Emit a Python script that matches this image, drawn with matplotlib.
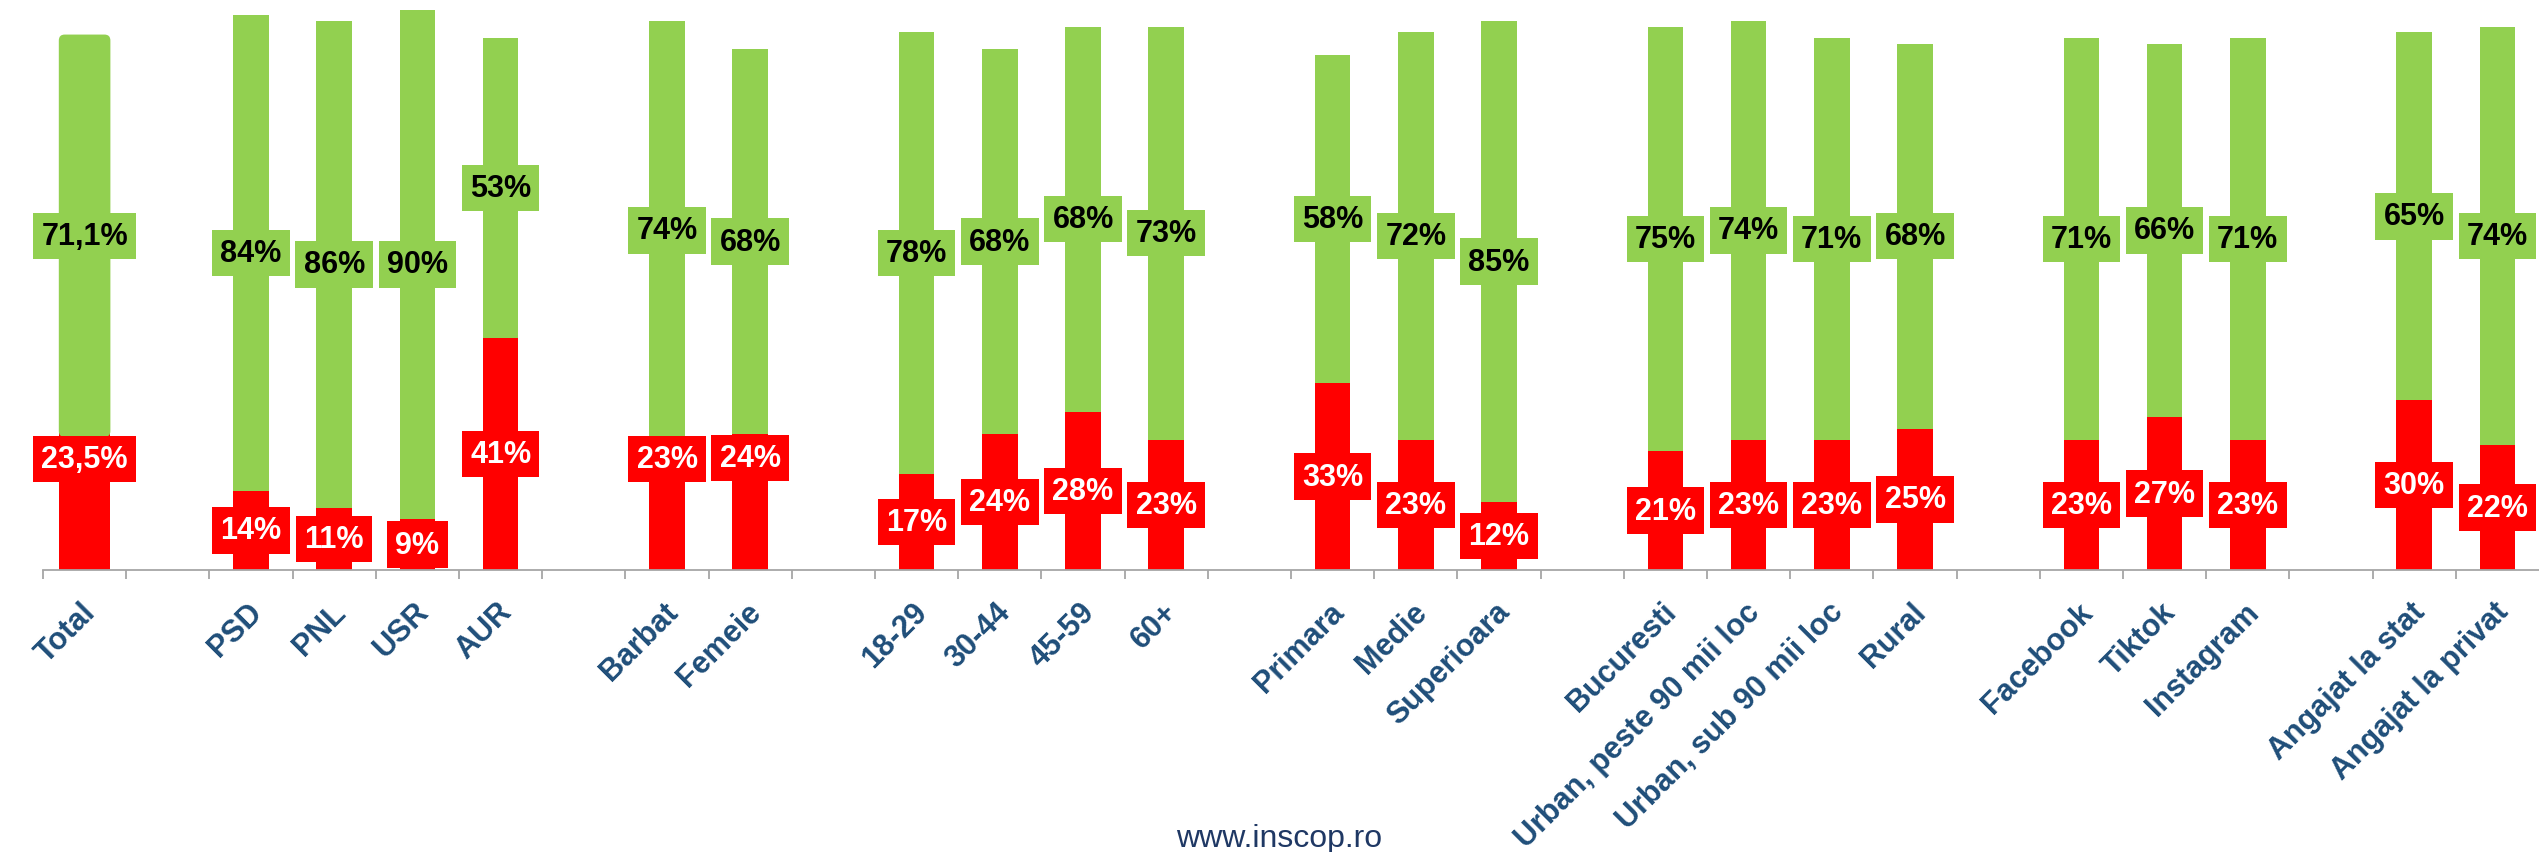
import numpy as np
import matplotlib.pyplot as plt
from matplotlib.patches import FancyBboxPatch
from matplotlib.transforms import ScaledTranslation

plt.rcParams['font.family'] = ['Liberation Sans', 'DejaVu Sans']

# categories, '' = empty slot between groups
cats = ["Total", "",
        "PSD", "PNL", "USR", "AUR", "",
        "Barbat", "Femeie", "",
        "18-29", "30-44", "45-59", "60+", "",
        "Primara", "Medie", "Superioara", "",
        "Bucuresti", "Urban, peste 90 mii loc", "Urban, sub 90 mii loc", "Rural", "",
        "Facebook", "Tiktok", "Instagram", "",
        "Angajat la stat", "Angajat la privat"]

nan = np.nan
red = [23.5, nan,
       14, 11, 9, 41, nan,
       23, 24, nan,
       17, 24, 28, 23, nan,
       33, 23, 12, nan,
       21, 23, 23, 25, nan,
       23, 27, 23, nan,
       30, 22]
green = [71.1, nan,
         84, 86, 90, 53, nan,
         74, 68, nan,
         78, 68, 68, 73, nan,
         58, 72, 85, nan,
         75, 74, 71, 68, nan,
         71, 66, 71, nan,
         65, 74]

# red labels moved by hand in the original (data y), others sit mid-segment
red_lbl_override = {"Total": 19.6, "Barbat": 19.6, "Femeie": 19.8}

RED = "#FF0000"
GREEN = "#92D050"
BLUE = "#1F4E79"
GRAY = "#A6A6A6"


def fmt(v):
    if float(v).is_integer():
        return "%d%%" % v
    return ("%.1f%%" % v).replace(".", ",")


red = np.array(red, dtype=float)
green = np.array(green, dtype=float)
x = np.arange(len(cats))
widths = np.where(np.array(cats) == "Total", 0.62, 0.43)

fig = plt.figure(figsize=(25.39, 8.53), dpi=100)
ax = fig.add_axes([43/2539, 1-571/853, 1-43/2539, (571-5)/853])

ax.bar(x, red, width=widths, color=RED, zorder=2)
gbars = ax.bar(x, green, bottom=red, width=widths, color=GREEN, zorder=3)

# rounded corners on the Total bar
i0 = cats.index("Total")
gbars[i0].set_visible(False)
ax.add_patch(FancyBboxPatch((x[i0]-widths[i0]/2, red[i0]), widths[i0], green[i0],
                            boxstyle="round,pad=0,rounding_size=0.07",
                            mutation_aspect=15, fc=GREEN, ec="none", zorder=3))
ax.bar(x[i0], 1.2, bottom=red[i0]-0.2, width=widths[i0], color=RED, zorder=2)

for i, c in enumerate(cats):
    if not c:
        continue
    ry = red_lbl_override.get(c, red[i]/2)
    ax.text(x[i], ry, fmt(red[i]), ha="center", va="center", fontsize=22,
            fontweight="bold", color="white", zorder=5,
            bbox=dict(boxstyle="square,pad=0.27", fc=RED, ec="none"))
    gy = red[i] + green[i]/2
    ax.text(x[i], gy, fmt(green[i]), ha="center", va="center", fontsize=22,
            fontweight="bold", color="black", zorder=5,
            bbox=dict(boxstyle="square,pad=0.27", fc=GREEN, ec="none"))

ax.set_xlim(-0.5, len(cats)-0.5)
ax.set_ylim(0, 100)
ax.set_yticks([])
for s in ["top", "left", "right"]:
    ax.spines[s].set_visible(False)
ax.spines["bottom"].set_color(GRAY)
ax.spines["bottom"].set_linewidth(1.3)

lab_x = [i for i, c in enumerate(cats) if c]
ax.set_xticks(lab_x)
ax.set_xticklabels([cats[i] for i in lab_x])
ax.set_xticks(np.arange(-0.5, len(cats)-0.5), minor=True)
ax.tick_params(axis="x", which="major", length=0, pad=19, labelsize=22,
               labelcolor=BLUE)
ax.tick_params(axis="x", which="minor", length=6.5, width=1.3, color=GRAY)
off = ScaledTranslation(-4/100, 0, fig.dpi_scale_trans)
for t in ax.get_xticklabels():
    t.set_rotation(45)
    t.set_ha("right")
    t.set_va("top")
    t.set_rotation_mode("anchor")
    t.set_fontweight("bold")
    t.set_transform(t.get_transform() + off)

fig.text(1279/2539, 1-847/853, "www.inscop.ro", ha="center", va="baseline",
         fontsize=23, color="#1F3864")

fig.savefig("out.png", dpi=100)
